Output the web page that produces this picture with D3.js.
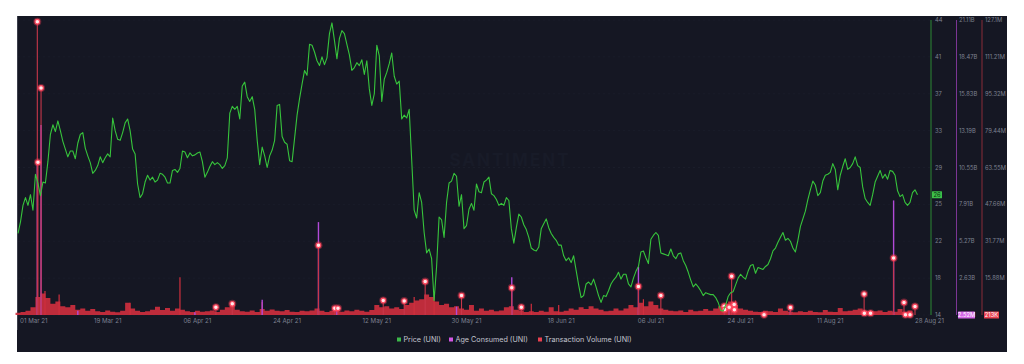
<!DOCTYPE html>
<html><head><meta charset="utf-8">
<script src="https://cdn.jsdelivr.net/npm/d3@7"></script>
<style>html,body{margin:0;padding:0;background:#fff;}svg{display:block;font-family:Inter,"Noto Sans",sans-serif;}</style>
</head><body><svg id="c" width="1024" height="364"></svg>
<script>
// ---------- DATA ----------
const seriesNames = ["Price (UNI)", "Age Consumed (UNI)", "Transaction Volume (UNI)"];
const priceStart = "2021-03-01T00:00:00Z";
const priceStepHours = 12;
const priceValues = [
22.4,23.6,25.3,26.1,25.3,26.4,24.8,28.5,27.6,26.3,
27.7,27.6,29.8,32.6,33.6,32.9,34.0,33.0,31.9,31.1,
30.3,30.9,30.9,30.1,31.7,32.6,32.8,31.2,30.4,29.7,
28.6,28.9,29.4,30.3,29.7,30.2,30.6,30.3,34.3,33.0,
32.1,32.0,32.8,33.8,34.2,33.0,31.1,30.6,27.5,26.1,
26.5,27.7,28.4,27.9,28.2,27.7,27.9,28.6,28.5,28.2,
27.6,27.6,28.9,29.0,28.7,29.1,30.9,30.8,30.2,30.7,
30.4,30.5,30.7,30.8,29.8,28.2,28.7,29.3,29.8,29.5,
29.7,29.5,29.1,29.4,30.2,34.8,35.5,35.2,35.5,34.2,
37.6,38.0,36.5,36.0,36.5,35.2,32.0,29.5,31.3,30.4,
29.2,30.4,31.0,32.0,35.6,35.7,32.4,31.8,31.6,29.9,
29.8,32.2,34.6,36.3,37.8,39.2,38.7,41.9,41.8,41.1,
40.2,39.7,40.6,39.8,40.5,43.0,44.1,42.3,40.4,42.5,
43.3,43.0,41.9,40.8,39.2,39.5,40.0,39.7,40.3,38.8,
40.2,37.3,35.6,36.8,41.8,40.7,36.0,38.3,39.0,39.9,
41.0,38.6,37.8,38.1,34.2,34.6,34.3,35.2,30.0,24.8,
24.0,26.6,25.6,22.5,20.4,20.8,19.8,15.5,19.0,24.1,
23.8,22.0,25.6,27.6,27.8,28.6,28.3,25.2,26.4,22.9,
23.2,24.9,25.5,24.8,27.5,26.7,26.6,27.7,27.9,28.2,
26.5,26.3,25.9,25.3,25.5,25.3,26.1,25.8,22.9,21.4,
23.0,24.4,24.1,23.3,22.8,22.0,20.9,20.7,20.6,21.0,
22.9,23.4,23.9,23.0,22.4,22.0,21.7,21.2,21.2,20.1,
19.6,19.9,19.4,20.1,18.6,17.1,15.8,16.0,17.2,17.4,
17.1,17.7,16.9,16.0,15.3,16.0,15.9,16.5,17.2,17.6,
17.9,18.4,17.7,18.2,18.2,17.2,16.9,17.8,18.5,19.0,
20.5,20.6,19.9,19.3,21.8,22.2,22.5,22.2,20.4,20.3,
20.2,20.1,20.8,20.1,19.8,20.3,20.4,19.6,19.1,18.4,
17.6,16.9,17.2,16.9,16.5,16.0,16.3,16.2,16.1,16.1,
15.8,15.3,14.5,14.4,15.0,15.9,16.3,16.4,17.1,17.8,
18.2,17.9,17.7,18.5,19.1,19.2,18.3,18.9,18.8,18.7,
19.0,19.2,19.8,20.6,20.9,21.5,22.0,22.5,21.7,21.9,
21.6,20.9,20.5,21.7,23.1,23.9,24.7,25.9,26.9,27.8,
27.4,26.3,26.6,27.8,28.4,28.5,28.7,29.6,29.0,26.9,
28.4,29.3,30.1,29.0,29.2,29.6,30.3,29.4,29.2,27.2,
26.0,25.6,25.3,26.4,27.7,28.3,28.9,28.1,28.5,28.0,
28.9,28.8,28.4,26.8,26.2,26.4,25.6,25.3,25.6,26.6,
26.9,26.4];

// Transaction volume, millions, daily
const volumeStart = "2021-03-01T00:00:00Z";
const volumeStepHours = 24;
const volumeValues = [
1.2,1.5,2.0,3.5,8.0,9.5,7.5,5.0,6.0,4.0,
3.5,4.5,2.5,3.0,2.0,2.8,1.8,1.5,2.2,1.6,
1.4,2.0,5.5,3.0,2.0,1.5,1.8,2.5,3.8,2.4,
3.2,2.0,3.0,2.5,1.8,1.5,2.0,1.6,1.8,2.2,
1.5,2.5,3.5,4.5,2.5,1.8,1.6,2.2,1.5,2.8,
2.0,2.6,2.0,1.8,2.4,1.6,1.5,2.0,1.8,2.2,
3.0,2.0,1.5,2.0,1.8,1.6,2.2,1.8,2.5,2.0,
1.6,2.4,4.5,3.5,4.0,3.0,3.5,2.8,4.5,5.5,
6.5,7.0,9.0,8.0,6.0,4.5,5.0,3.5,4.0,3.0,
2.5,4.5,2.0,3.0,2.0,2.5,1.8,2.2,3.5,4.0,
2.5,2.0,1.5,1.8,1.5,2.0,1.6,3.5,1.8,1.6,
2.0,3.0,2.5,3.5,2.8,4.0,3.0,2.5,1.8,2.0,
3.0,2.2,3.0,4.5,3.5,5.5,4.0,6.0,4.5,3.0,
2.5,2.0,1.8,2.2,1.5,2.5,1.8,2.0,2.8,2.0,
3.0,4.0,5.0,6.0,4.5,3.0,2.5,2.0,1.6,1.5,
2.0,1.8,1.5,3.0,2.0,1.6,1.4,1.8,1.5,2.0,
1.5,1.4,2.4,1.6,1.5,3.2,1.8,2.0,2.5,3.0,
2.0,1.6,1.8,2.2,1.5,2.0,1.6,2.8,1.5,2.2,
1.4];
// Short-lived volume spikes (millions)
const spikeDates = ["2021-03-06T10:00Z","2021-03-09T06:00Z","2021-03-23T12:00Z","2021-04-02T12:00Z","2021-04-19T00:00Z",
"2021-05-19T12:00Z","2021-05-23T12:00Z","2021-06-12T00:00Z","2021-06-17T12:00Z","2021-07-04T12:00Z","2021-07-23T00:00Z"];
const spikeValues = [10.5,9.0,5.5,16.5,5.8,8.0,9.5,5.0,4.5,7.0,6.5];

// Highlighted transaction volume points (millions)
const pinDates = ["2021-03-04T21:00Z","2021-03-05T15:00Z","2021-03-05T00:00Z","2021-04-09T17:00Z","2021-04-13T00:00Z",
"2021-04-30T07:00Z","2021-05-03T14:00Z","2021-05-04T05:00Z","2021-05-13T07:00Z","2021-05-17T12:00Z",
"2021-05-21T17:00Z","2021-05-29T00:00Z","2021-06-08T02:00Z","2021-06-10T00:00Z","2021-07-03T12:00Z",
"2021-07-08T00:00Z","2021-07-20T17:00Z","2021-07-20T19:00Z","2021-07-21T17:00Z","2021-07-22T05:00Z",
"2021-07-22T17:00Z","2021-07-22T18:00Z","2021-07-28T17:00Z","2021-08-03T00:00Z","2021-08-17T19:00Z",
"2021-08-17T20:00Z","2021-08-19T02:00Z","2021-08-23T17:00Z","2021-08-25T19:00Z","2021-08-26T02:00Z",
"2021-08-27T00:00Z","2021-08-28T00:00Z"];
const pinValues = [126.4,97.9,65.9,3.6,5.0,
30.2,3.1,3.1,6.5,6.2,
14.6,8.6,11.9,3.6,12.5,
8.6,4.0,2.6,3.6,16.9,
4.7,2.5,0.3,3.4,9.2,
1.0,1.0,24.7,5.6,0.3,
0.3,3.9];

// Age consumed, billions
const ageDates = ["2021-03-04T21:00Z","2021-03-05T15:00Z","2021-03-13T00:00Z","2021-04-05T12:00Z","2021-04-19T00:00Z",
"2021-04-30T07:00Z","2021-05-04T00:00Z","2021-05-28T00:00Z","2021-06-08T02:00Z","2021-07-03T12:00Z",
"2021-07-21T17:00Z","2021-08-03T00:00Z","2021-08-23T17:00Z"];
const ageValues = [10.8,13.6,0.3,0.2,1.1,6.65,0.4,0.6,2.7,3.45,0.4,0.5,8.2];

const xTickDates = ["2021-03-01","2021-03-19","2021-04-06","2021-04-24","2021-05-12","2021-05-30","2021-06-18","2021-07-06","2021-07-24","2021-08-11","2021-08-28"];
const xTickLabels = ["01 Mar 21","19 Mar 21","06 Apr 21","24 Apr 21","12 May 21","30 May 21","18 Jun 21","06 Jul 21","24 Jul 21","11 Aug 21","28 Aug 21"];
const priceTickLabels = ["14","18","22","25","29","33","37","41","44"];
const ageTickLabels = ["2.52M","2.63B","5.27B","7.91B","10.55B","13.19B","15.83B","18.47B","21.11B"];
const volTickLabels = ["213K","15.88M","31.77M","47.66M","63.55M","79.44M","95.32M","111.21M","127.1M"];
const priceDomain = [14, 44.4];
const ageDomain = [0.00252, 21.11];
const volDomain = [0.213, 127.1];
const lastPriceLabel = "26";

(function(){
// ---------- LAYOUT ----------
const svg = d3.select("#c");
const plotL = 18, plotR = 931, plotTop = 20, base = 315;
const colors = {bg:"#151723", price:"#37c43c", age:"#b24ad8", vol:"#d02f3e", text:"#7d8190"};

svg.append("rect").attr("x",17).attr("y",16).attr("width",990).attr("height",336).attr("fill",colors.bg);
svg.append("line").attr("x1",17.5).attr("x2",17.5).attr("y1",16).attr("y2",330).attr("stroke","#3b3e4b").attr("stroke-width",1);

const x = d3.scaleUtc().domain([new Date("2021-03-01T00:00:00Z"), new Date("2021-08-28T00:00:00Z")]).range([18, 915]);
const yP = d3.scaleLinear().domain(priceDomain).range([base, plotTop]);
const yA = d3.scaleLinear().domain(ageDomain).range([base, plotTop]);
const yV = d3.scaleLinear().domain(volDomain).range([base, plotTop]);

const nT = priceTickLabels.length - 1;
const tickFrac = d3.range(nT + 1).map(k => k / nT);
const tickY = f => yP(priceDomain[0] + f*(priceDomain[1]-priceDomain[0]));

// grid
svg.append("g").selectAll("line").data(tickFrac).join("line")
  .attr("x1", plotL).attr("x2", plotR)
  .attr("y1", tickY).attr("y2", tickY)
  .attr("stroke", "#1a1d2a").attr("stroke-width", 1).attr("stroke-dasharray","2,3");

// watermark
svg.append("text").attr("x", 510).attr("y", 166).attr("text-anchor","middle")
  .attr("font-size", 17).attr("font-weight", 700).attr("letter-spacing", 2)
  .attr("fill", "#181b28").text("SANTIMENT");

const t0p = new Date(priceStart).getTime();
const priceData = priceValues.map((v,i) => ({d:new Date(t0p + i*priceStepHours*3600e3), v}));
const t0v = new Date(volumeStart).getTime();
const volData = volumeValues.map((v,i) => ({d:new Date(t0v + i*volumeStepHours*3600e3), v}));

// volume as a dense stepped area
svg.append("path").datum(volData)
  .attr("d", d3.area().curve(d3.curveStepAfter).x(d => x(d.d) - 2.5).y0(base).y1(d => yV(Math.max(d.v, volDomain[0]))))
  .attr("fill", colors.vol).attr("opacity", 0.9);
const spikeData = spikeDates.map((d,i) => ({d:new Date(d), v:spikeValues[i]}));
svg.append("g").selectAll("line").data(spikeData).join("line")
  .attr("x1", d => x(d.d)).attr("x2", d => x(d.d))
  .attr("y1", base).attr("y2", d => yV(d.v))
  .attr("stroke", colors.vol).attr("stroke-width", 1.2);

// age consumed bars
const ageData = ageDates.map((d,i) => ({d:new Date(d), v:ageValues[i]}));
svg.append("g").selectAll("line").data(ageData).join("line")
  .attr("x1", d => x(d.d)).attr("x2", d => x(d.d))
  .attr("y1", base).attr("y2", d => yA(d.v))
  .attr("stroke", colors.age).attr("stroke-width", 1.4);

// volume pins
const pinData = pinDates.map((d,i) => ({d:new Date(d), v:pinValues[i]}));
const pg = svg.append("g");
pg.selectAll("line").data(pinData).join("line")
  .attr("x1", d => x(d.d)).attr("x2", d => x(d.d))
  .attr("y1", base).attr("y2", d => yV(d.v))
  .attr("stroke", "#c8374a").attr("stroke-width", 1.1);
pg.selectAll("circle.glow").data(pinData).join("circle").attr("class","glow")
  .attr("cx", d => x(d.d)).attr("cy", d => yV(d.v)).attr("r", 4)
  .attr("fill", "rgba(255,60,85,0.35)");
pg.selectAll("circle.dot").data(pinData).join("circle").attr("class","dot")
  .attr("cx", d => x(d.d)).attr("cy", d => yV(d.v)).attr("r", 2.3)
  .attr("fill", "#ffe8ea").attr("stroke", "#ff4a60").attr("stroke-width", 1.1);

// price line
svg.append("path").datum(priceData)
  .attr("d", d3.line().x(d => x(d.d)).y(d => yP(d.v)))
  .attr("fill","none").attr("stroke", colors.price).attr("stroke-width", 1.1).attr("stroke-linejoin","round");

// right axes
const axes = [
  {x:931, color:"#2c8a34", labels:priceTickLabels, lx:935, skip0:false},
  {x:956.5, color:"#7b3594", labels:ageTickLabels, lx:959, skip0:true},
  {x:982, color:"#8a2c38", labels:volTickLabels, lx:985, skip0:true}
];
axes.forEach(a => {
  svg.append("line").attr("x1",a.x).attr("x2",a.x).attr("y1",plotTop).attr("y2",base)
    .attr("stroke",a.color).attr("stroke-width",1);
  svg.append("g").selectAll("text")
    .data(a.labels.map((l,k)=>({l,k})).filter(o => !(a.skip0 && o.k===0))).join("text")
    .attr("x", a.lx).attr("y", o => tickY(tickFrac[o.k]))
    .attr("dy","0.35em").attr("font-size",5.8).attr("fill",colors.text).text(o => o.l);
});

// current value boxes
function box(xp, yc, w, fill, txt, tcol){
  svg.append("rect").attr("x",xp).attr("y",yc-3.5).attr("width",w).attr("height",7).attr("fill",fill).attr("rx",0.5);
  svg.append("text").attr("x",xp+w/2).attr("y",yc).attr("dy","0.35em").attr("text-anchor","middle")
    .attr("font-size",5.8).attr("fill",tcol).text(txt);
}
box(932, yP(priceValues[priceValues.length-1]), 10, "#3cc048", lastPriceLabel, "#0d2a10");
box(958, base, 17, "#d468e6", ageTickLabels[0], "#ffffff");
box(984, base, 15, "#e9404f", volTickLabels[0], "#ffffff");

// x labels
svg.append("g").selectAll("text").data(xTickDates.map((d,i)=>({d:new Date(d+"T00:00:00Z"), l:xTickLabels[i], i}))).join("text")
  .attr("x", o => o.i===0 ? x(o.d)+2 : x(o.d))
  .attr("y", 321).attr("dy","0.35em")
  .attr("text-anchor", o => (o.i===0 || o.i===xTickDates.length-1) ? "start" : "middle")
  .attr("font-size", 6.2).attr("fill", colors.text).text(o => o.l);

// legend
const legendColors = ["#3cb84a","#d357e3","#e8404f"];
const legendX = [397, 449, 538];
const lg = svg.append("g");
seriesNames.forEach((n,i) => {
  lg.append("rect").attr("x",legendX[i]).attr("y",337.5).attr("width",4).attr("height",4).attr("fill",legendColors[i]);
  lg.append("text").attr("x",legendX[i]+6.5).attr("y",339.6).attr("dy","0.35em").attr("font-size",7.2)
    .attr("fill","#c3c5cf").text(n);
});
})();
</script></body></html>
